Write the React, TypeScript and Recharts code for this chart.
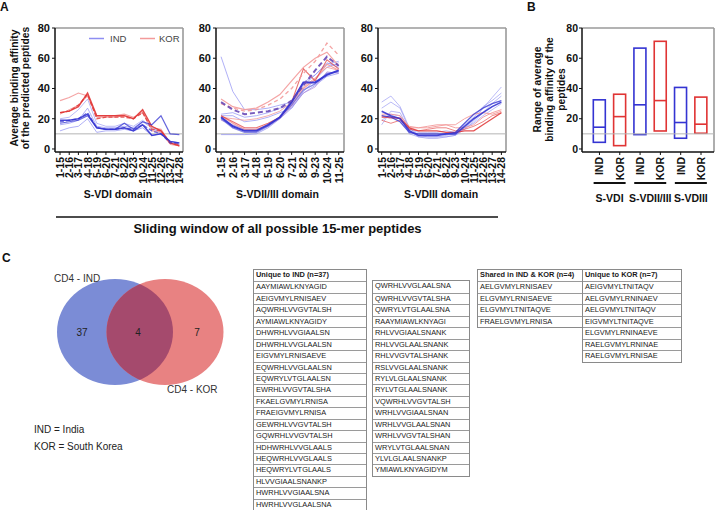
import React from 'react';
import { LineChart, Line, XAxis, YAxis, ReferenceLine, BarChart, Bar, ScatterChart, Scatter } from 'recharts';

const FONT = '"Liberation Sans", Arial, Helvetica, sans-serif';

// ---------- Panel A categories ----------
const vdiWindows = ['1-15', '2-16', '3-17', '4-18', '5-19', '6-20', '7-21', '8-22', '9-23', '10-24', '11-25', '12-26', '13-27', '14-28'];
const vdiiWindows = ['1-15', '2-16', '3-17', '4-18', '5-19', '6-20', '7-21', '8-22', '9-23', '10-24', '11-25'];
const vdiiiWindows = ['1-15', '2-16', '3-17', '4-18', '5-19', '6-20', '7-21', '8-22', '9-23', '10-24', '11-25', '12-26', '13-27', '14-28'];
const yTicks = [0, 20, 40, 60, 80];

// ---------- S-VDI ----------
const vdiInd1 = [19, 19, 20, 23, 14, 13, 13, 14, 12, 16, 9, 10, 5, 4];
const vdiInd2 = [17, 18, 19, 22, 14, 13, 13, 17, 13, 18, 16, 22, 10, 9.5];
const vdiInd3 = [16, 17, 19, 27, 15, 14, 14, 15, 14, 18, 14, 10, 5, 4];
const vdiInd4 = [12, 14, 15, 20, 11, 12, 12, 13, 12, 14, 9, 10, 4, 3];
const vdiInd5 = [20, 21, 26, 33, 17, 15, 15, 17, 15, 19, 14, 11, 4, 3];
const vdiIndDash = [18, 19, 20, 24, 14, 13, 13, 14, 13, 16, 12, 10, 4, 4];
const vdiKor1 = [32, 34, 37, 35, 22, 22, 22, 23, 21, 24, 14, 13, 4, 2];
const vdiKor2 = [24, 25, 28, 37, 22, 22, 22, 22, 20, 26, 15, 12, 4, 2];
const vdiKor3 = [23, 26, 29, 35, 21, 21, 21, 22, 20, 25, 12, 11, 3, 2];
const vdiKorDash = [24, 25, 29, 36, 20, 21, 21, 21, 20, 24, 13, 12, 4, 3];

// ---------- S-VDII/III ----------
const vdiiInd1 = [61, 38, 26, 26, 27, 29, 31, 44, 49, 57, 54];
const vdiiInd2 = [21, 15, 12, 12, 16, 21, 31, 44, 44, 49, 52];
const vdiiInd3 = [20, 14, 11, 11, 15, 21, 29, 39, 43, 50, 51];
const vdiiInd4 = [9.5, 9.5, 9.5, 10, 14, 20, 27, 37, 42, 48, 50];
const vdiiInd5 = [22, 22, 18, 19, 21, 24, 27, 38, 46, 54, 57];
const vdiiInd6 = [23, 24, 21, 22, 24, 27, 29, 42, 49, 56, 58];
const vdiiInd7 = [19, 16, 13, 13, 15, 20, 28, 37, 41, 51, 50];
const vdiiIndDash = [31, 26, 23, 24, 25, 27, 32, 42, 52, 61, 55];
const vdiiKor1 = [33, 28, 26, 27, 31, 36, 45, 54, 60, 64, 55];
const vdiiKor2 = [22, 18, 14, 14, 17, 21, 31, 53, 45, 59, 53];
const vdiiKor3 = [22, 17, 13, 13, 16, 21, 29, 40, 46, 56, 52];
const vdiiKor4 = [21, 20, 19, 20, 22, 25, 31, 41, 47, 54, 52];
const vdiiKorDash = [30, 27, 25, 26, 29, 33, 40, 50, 58, 70, 62];

// ---------- S-VDIII ----------
const vdiiiInd1 = [25, 22, 20, 12, 9, 9, 9, 10, 10, 15, 20, 24, 28, 31];
const vdiiiInd2 = [22, 21, 18, 11, 10, 10, 10, 10, 11, 17, 23, 27, 30, 32];
const vdiiiInd3 = [31, 35, 28, 14, 9, 8, 8, 8, 9, 14, 19, 27, 34, 41];
const vdiiiInd4 = [16, 25, 24, 12, 8, 7, 7, 8, 9, 13, 18, 24, 30, 35];
const vdiiiInd5 = [27, 31, 27, 13, 11, 11, 11, 12, 11, 16, 21, 28, 32, 37];
const vdiiiInd6 = [19, 23, 22, 10, 8, 8, 8, 9, 10, 14, 17, 22, 26, 30];
const vdiiiKor1 = [21, 21, 20, 14, 12, 12, 12, 11, 11, 12, 12, 16, 20, 24];
const vdiiiKor2 = [23, 23, 22, 15, 14, 14, 15, 16, 16, 20, 23, 24, 23, 25];
const vdiiiKor3 = [19, 17, 19, 13, 12, 13, 14, 14, 12, 13, 15, 18, 22, 24];
const vdiiiKor4 = [22, 20, 21, 14, 14, 15, 16, 16, 14, 14, 16, 21, 24, 26];

// ---------- Panel B ----------
const bCats = ['IND', 'KOR', 'IND', 'KOR', 'IND', 'KOR'];
const bLow = [4.4, 2.2, 9.5, 11.9, 7.1, 10.4];
const bHigh = [32.5, 36.2, 66.7, 71.2, 40.7, 34.3];
const bMedian = [14.4, 21.4, 29.2, 32, 17.5, 16.4];
const bGroups = ['S-VDI', 'S-VDII/III', 'S-VDIII'];
const bGroupCenters = [0.5, 2.5, 4.5];

// ---------- Panel C ----------
const vennSets = ['CD4 - IND', 'CD4 - KOR'];
const vennCenters = [0, 1];
const vennCounts = [37, 4, 7];
const vennCountPos = [-0.66, 0.46, 1.64];

const uniqueInd = [
  'AAYMIAWLKNYAGID', 'AEIGVMYLRNISAEV', 'AQWRHLVVGVTALSH', 'AYMIAWLKNYAGIDY', 'DHWRHLVVGIAALSN',
  'DHWRHLVVGLAALSN', 'EIGVMYLRNISAEVE', 'EQWRHLVVGLAALSN', 'EQWRYLVTGLAALSN', 'EWRHLVVGVTALSHA',
  'FKAELGVMYLRNISA', 'FRAEIGVMYLRNISA', 'GEWRHLVVGVTALSH', 'GQWRHLVVGVTALSH', 'HDHWRHLVVGLAALS',
  'HEQWRHLVVGLAALS', 'HEQWRYLVTGLAALS', 'HLVVGIAALSNANKP', 'HWRHLVVGIAALSNA', 'HWRHLVVGLAALSNA',
  'QWRHLVVGLAALSNA', 'QWRHLVVGVTALSHA', 'QWRYLVTGLAALSNA', 'RAAYMIAWLKNYAGI', 'RHLVVGIAALSNANK',
  'RHLVVGLAALSNANK', 'RHLVVGVTALSHANK', 'RSLVVGLAALSNANK', 'RYLVLGLAALSNANK', 'RYLVTGLAALSNANK',
  'VQWRHLVVGVTALSH', 'WRHLVVGIAALSNAN', 'WRHLVVGLAALSNAN', 'WRHLVVGVTALSHAN', 'WRYLVTGLAALSNAN',
  'YLVLGLAALSNANKP', 'YMIAWLKNYAGIDYM',
];
const sharedPeptides = ['AELGVMYLRNISAEV', 'ELGVMYLRNISAEVE', 'ELGVMYLTNITAQVE', 'FRAELGVMYLRNISA'];
const uniqueKor = ['AEIGVMYLTNITAQV', 'AELGVMYLRNINAEV', 'AELGVMYLTNITAQV', 'EIGVMYLTNITAQVE', 'ELGVMYLRNINAEVE', 'RAELGVMYLRNINAE', 'RAELGVMYLRNISAE'];

// ---------- styles ----------
const IND_DARK = '#3434d2';
const IND_LIGHT = '#8e8ef2';
const KOR_DARK = '#e03434';
const KOR_LIGHT = '#f39a9a';
const PURPLE = '#6848b6';

type S = { data: number[]; color: string; w: number; op: number; dash?: string };

const vdiSeries: S[] = [
  { data: vdiInd3, color: IND_LIGHT, w: 1, op: 0.7 },
  { data: vdiInd4, color: IND_LIGHT, w: 1, op: 0.7 },
  { data: vdiInd5, color: IND_LIGHT, w: 1, op: 0.6 },
  { data: vdiKor1, color: KOR_LIGHT, w: 1.2, op: 0.9 },
  { data: vdiKor3, color: KOR_LIGHT, w: 1, op: 0.9 },
  { data: vdiKorDash, color: KOR_DARK, w: 1.3, op: 0.8, dash: '4 2' },
  { data: vdiKor2, color: KOR_DARK, w: 1.4, op: 0.9 },
  { data: vdiIndDash, color: IND_DARK, w: 1.3, op: 0.7, dash: '4 2' },
  { data: vdiInd2, color: IND_DARK, w: 1.2, op: 0.75 },
  { data: vdiInd1, color: IND_DARK, w: 1.5, op: 0.9 },
];

const vdiiSeries: S[] = [
  { data: vdiiInd1, color: IND_LIGHT, w: 1, op: 0.7 },
  { data: vdiiInd4, color: IND_LIGHT, w: 1, op: 0.7 },
  { data: vdiiInd5, color: IND_LIGHT, w: 1, op: 0.7 },
  { data: vdiiInd6, color: IND_LIGHT, w: 1, op: 0.7 },
  { data: vdiiInd7, color: '#b08ad8', w: 1, op: 0.7 },
  { data: vdiiKor4, color: KOR_LIGHT, w: 1, op: 0.8 },
  { data: vdiiKor1, color: KOR_LIGHT, w: 1.2, op: 0.9 },
  { data: vdiiKor3, color: KOR_LIGHT, w: 1.2, op: 0.9 },
  { data: vdiiKor2, color: KOR_DARK, w: 1.1, op: 0.7 },
  { data: vdiiKorDash, color: KOR_LIGHT, w: 1.3, op: 0.9, dash: '4 3' },
  { data: vdiiInd3, color: '#6a6ae0', w: 1.3, op: 0.8 },
  { data: vdiiInd2, color: IND_DARK, w: 2, op: 0.95 },
  { data: vdiiIndDash, color: PURPLE, w: 2, op: 0.9, dash: '5 3' },
];

const vdiiiSeries: S[] = [
  { data: vdiiiInd3, color: IND_LIGHT, w: 1, op: 0.6 },
  { data: vdiiiInd4, color: IND_LIGHT, w: 1, op: 0.6 },
  { data: vdiiiInd5, color: IND_LIGHT, w: 1, op: 0.6 },
  { data: vdiiiInd6, color: IND_LIGHT, w: 1, op: 0.6 },
  { data: vdiiiKor2, color: KOR_LIGHT, w: 1, op: 0.9 },
  { data: vdiiiKor4, color: KOR_LIGHT, w: 1, op: 0.9 },
  { data: vdiiiKor3, color: KOR_DARK, w: 1, op: 0.6 },
  { data: vdiiiKor1, color: KOR_DARK, w: 1.3, op: 0.85 },
  { data: vdiiiInd2, color: IND_DARK, w: 1.3, op: 0.8 },
  { data: vdiiiInd1, color: IND_DARK, w: 1.6, op: 0.9 },
];

const RotTick = (props: any) => {
  const { x, y, payload, labels } = props;
  return (
    <text
      transform={`translate(${x},${y}) rotate(-90)`}
      textAnchor="end"
      dominantBaseline="central"
      fontSize={10.5}
      fontWeight="bold"
      fontFamily={FONT}
      fill="#111"
    >
      {labels[payload.value]}
    </text>
  );
};

const yTickStyle = { fontSize: 11, fontWeight: 'bold', fill: '#111', fontFamily: FONT } as any;
const bTickStyle = { fontSize: 10.5, fontWeight: 'bold', fill: '#111', fontFamily: FONT } as any;

function DomainPanel({ left, labels, series, domain }: { left: number; labels: string[]; series: S[]; domain: [number, number] }) {
  const rows = labels.map((lab, i) => {
    const r: any = { i, lab };
    series.forEach((s, k) => {
      r['s' + k] = s.data[i];
    });
    return r;
  });
  return (
    <div style={{ position: 'absolute', left, top: 0 }}>
      <LineChart width={190} height={215} data={rows} margin={{ top: 28, right: 7, left: 0, bottom: 0 }}>
        <ReferenceLine y={80} stroke="#9a9a9a" strokeWidth={1.6} />
        <ReferenceLine x={domain[1]} stroke="#9a9a9a" strokeWidth={1.6} />
        <ReferenceLine y={10} stroke="#b4b4b4" strokeWidth={1} />
        <XAxis
          type="number"
          dataKey="i"
          domain={domain}
          ticks={labels.map((_, i) => i)}
          interval={0}
          allowDataOverflow
          height={63}
          tickSize={3}
          tickMargin={2}
          axisLine={{ stroke: '#111', strokeWidth: 1.5 }}
          tickLine={{ stroke: '#111' }}
          tick={(p: any) => <RotTick {...p} labels={labels} />}
        />
        <YAxis
          type="number"
          domain={[-2, 80]}
          ticks={yTicks}
          interval={0}
          allowDataOverflow
          width={55}
          tickSize={3}
          tickMargin={2}
          axisLine={{ stroke: '#111', strokeWidth: 1.5 }}
          tickLine={{ stroke: '#111' }}
          tick={yTickStyle}
        />
        {series.map((s, k) => (
          <Line
            key={k}
            type="linear"
            dataKey={'s' + k}
            stroke={s.color}
            strokeWidth={s.w}
            strokeOpacity={s.op}
            strokeDasharray={s.dash}
            dot={false}
            isAnimationActive={false}
          />
        ))}
      </LineChart>
    </div>
  );
}

const RangeBox = (props: any) => {
  const { x, y, width, height, payload } = props;
  const top = Math.min(y, y + height);
  const h = Math.abs(height);
  const color = payload.cat === 'IND' ? IND_DARK : KOR_DARK;
  const my = top + (h * (payload.high - payload.median)) / (payload.high - payload.low);
  return (
    <g>
      <rect x={x} y={top} width={width} height={h} fill="none" stroke={color} strokeWidth={1.6} />
      <line x1={x} x2={x + width} y1={my} y2={my} stroke={color} strokeWidth={1.6} />
    </g>
  );
};

const BTick = (props: any) => {
  const { x, y, payload } = props;
  return (
    <text
      transform={`translate(${x},${y}) rotate(-90)`}
      textAnchor="end"
      dominantBaseline="central"
      fontSize={10.5}
      fontWeight="bold"
      fontFamily={FONT}
      fill="#111"
    >
      {bCats[payload.value]}
    </text>
  );
};

const GroupTick = (props: any) => {
  const { x, y, index } = props;
  return (
    <g>
      <line x1={x - 16} x2={x + 16} y1={y + 155} y2={y + 155} stroke="#111" strokeWidth={2} />
      <text x={x} y={y + 174} textAnchor="middle" fontSize={10.5} fontWeight="bold" fontFamily={FONT} fill="#111">
        {bGroups[index]}
      </text>
    </g>
  );
};

function PanelB() {
  const rows = bCats.map((cat, i) => ({ i, cat, range: [bLow[i], bHigh[i]], low: bLow[i], high: bHigh[i], median: bMedian[i] }));
  const dom: [number, number] = [-0.86, 5.64];
  return (
    <div style={{ position: 'absolute', left: 500, top: 0 }}>
      <BarChart width={215} height={215} data={rows} margin={{ top: 27, right: 1, left: 0, bottom: 0 }}>
        <ReferenceLine y={80} stroke="#9a9a9a" strokeWidth={1.6} />
        <ReferenceLine x={dom[1]} stroke="#9a9a9a" strokeWidth={1.6} />
        <ReferenceLine y={10} stroke="#b4b4b4" strokeWidth={1} />
        <XAxis
          type="number"
          dataKey="i"
          domain={dom}
          ticks={[0, 1, 2, 3, 4, 5]}
          interval={0}
          allowDataOverflow
          height={63}
          tickSize={3}
          tickMargin={2}
          axisLine={{ stroke: '#111', strokeWidth: 1.5 }}
          tickLine={{ stroke: '#111' }}
          tick={(p: any) => <BTick {...p} />}
        />
        <XAxis
          xAxisId="grp"
          orientation="top"
          type="number"
          dataKey="i"
          domain={dom}
          ticks={bGroupCenters}
          interval={0}
          allowDataOverflow
          height={1}
          tickSize={0}
          tickMargin={0}
          axisLine={false}
          tickLine={false}
          tick={(p: any) => <GroupTick {...p} />}
        />
        <YAxis
          type="number"
          domain={[-2, 80]}
          ticks={yTicks}
          interval={0}
          allowDataOverflow
          width={82}
          tickSize={3}
          tickMargin={1}
          axisLine={{ stroke: '#111', strokeWidth: 1.5 }}
          tickLine={{ stroke: '#111' }}
          tick={bTickStyle}
        />
        <Bar dataKey="range" barSize={12} shape={(p: any) => <RangeBox {...p} />} isAnimationActive={false} />
      </BarChart>
    </div>
  );
}

const VennShape = (props: any) => {
  const { cx, cy, payload } = props;
  if (payload.set === 0) {
    return (
      <g>
        <defs>
          <clipPath id="vennBlueClip">
            <ellipse cx={cx} cy={cy} rx={58} ry={53} />
          </clipPath>
        </defs>
        <ellipse cx={cx} cy={cy} rx={58} ry={53} fill="#7b8cd6" />
      </g>
    );
  }
  return (
    <g>
      <ellipse cx={cx} cy={cy} rx={58.5} ry={53} fill="#e88282" />
      <ellipse cx={cx} cy={cy} rx={58.5} ry={53} fill="#a54a6d" clipPath="url(#vennBlueClip)" />
    </g>
  );
};

const CountShape = (props: any) => {
  const { cx, cy, payload } = props;
  return (
    <text x={cx} y={cy} textAnchor="middle" dominantBaseline="central" fontSize={10} fontFamily={FONT} fill="#222">
      {payload.n}
    </text>
  );
};

function Venn() {
  const circles = vennSets.map((name, k) => ({ x: vennCenters[k], y: 0, set: k, name }));
  const counts = vennCounts.map((n, k) => ({ x: vennCountPos[k], y: 0, n }));
  return (
    <div style={{ position: 'absolute', left: 0, top: 267 }}>
      <ScatterChart width={240} height={130} margin={{ top: 0, right: 0, left: 0, bottom: 0 }}>
        <XAxis type="number" dataKey="x" domain={[-2.3, 2.5]} hide />
        <YAxis type="number" dataKey="y" domain={[-1.3, 1.3]} hide />
        <Scatter data={circles} shape={(p: any) => <VennShape {...p} />} isAnimationActive={false} />
        <Scatter data={counts} shape={(p: any) => <CountShape {...p} />} isAnimationActive={false} />
      </ScatterChart>
    </div>
  );
}

const ROW_H = 11.45;

function PepTable({ left, top, width, header, rows }: { left: number; top: number; width: number; header?: string; rows: string[] }) {
  const all = header ? [header, ...rows] : rows;
  return (
    <div
      style={{
        position: 'absolute',
        left,
        top,
        width,
        border: '1px solid #8a8a8a',
        boxSizing: 'border-box',
        fontFamily: FONT,
        fontSize: 7.4,
        color: '#1a1a1a',
        background: '#fff',
      }}
    >
      {all.map((t, k) => (
        <div
          key={k}
          style={{
            height: ROW_H,
            lineHeight: `${ROW_H - 1}px`,
            boxSizing: 'border-box',
            borderTop: k === 0 ? 'none' : '1px solid #9a9a9a',
            paddingLeft: 2,
            whiteSpace: 'nowrap',
            overflow: 'hidden',
            fontWeight: header && k === 0 ? 'bold' : 'normal',
          }}
        >
          {t}
        </div>
      ))}
    </div>
  );
}

export default function App() {
  return (
    <div style={{ position: 'absolute', left: 0, top: 0, width: 715, height: 510, background: '#fff', overflow: 'hidden', fontFamily: FONT }}>
      <DomainPanel left={0} labels={vdiWindows} series={vdiSeries} domain={[-0.55, 13.4]} />
      <DomainPanel left={161} labels={vdiiWindows} series={vdiiSeries} domain={[-0.43, 10.45]} />
      <DomainPanel left={323} labels={vdiiiWindows} series={vdiiiSeries} domain={[-0.4, 13.5]} />
      <PanelB />
      <Venn />
      <PepTable left={253} top={269} width={114} header="Unique to IND (n=37)" rows={uniqueInd.slice(0, 20)} />
      <PepTable left={372} top={269 + ROW_H} width={98} rows={uniqueInd.slice(20)} />
      <PepTable left={477} top={269} width={106} header="Shared in IND & KOR (n=4)" rows={sharedPeptides} />
      <PepTable left={582} top={269} width={100} header="Unique to KOR (n=7)" rows={uniqueKor} />
      <svg width={715} height={510} style={{ position: 'absolute', left: 0, top: 0, pointerEvents: 'none' }} fontFamily={FONT}>
        <text x={0} y={11} fontSize={12} fontWeight="bold" fill="#111">A</text>
        <text x={527} y={11} fontSize={12} fontWeight="bold" fill="#111">B</text>
        <text x={2} y={262} fontSize={12} fontWeight="bold" fill="#111">C</text>

        <text transform="translate(17.6,88) rotate(-90)" textAnchor="middle" fontSize={10.3} fontWeight="bold" fill="#111">Average binding affinity</text>
        <text transform="translate(29.3,88) rotate(-90)" textAnchor="middle" fontSize={10.3} fontWeight="bold" fill="#111">of the predicted peptides</text>

        <line x1={89} x2={104} y1={38.5} y2={38.5} stroke={IND_LIGHT} strokeWidth={1.5} />
        <text x={110} y={42} fontSize={9.5} fill="#444">IND</text>
        <line x1={140} x2={155} y1={38.5} y2={38.5} stroke={KOR_LIGHT} strokeWidth={1.5} />
        <text x={159} y={42} fontSize={9.5} fill="#444">KOR</text>

        <text x={118} y={198} textAnchor="middle" fontSize={10.5} fontWeight="bold" fill="#111">S-VDI domain</text>
        <text x={277.5} y={198} textAnchor="middle" fontSize={10.5} fontWeight="bold" fill="#111">S-VDII/III domain</text>
        <text x={441} y={198} textAnchor="middle" fontSize={10.5} fontWeight="bold" fill="#111">S-VDIII domain</text>

        <line x1={56} x2={498} y1={217} y2={217} stroke="#111" strokeWidth={1.6} />
        <text x={277.5} y={233} textAnchor="middle" fontSize={13} fontWeight="bold" fill="#111">Sliding window of all possible 15-mer peptides</text>

        <text transform="translate(541,89.5) rotate(-90)" textAnchor="middle" fontSize={10.3} fontWeight="bold" fill="#111">Range of average</text>
        <text transform="translate(553,89.5) rotate(-90)" textAnchor="middle" fontSize={10.3} fontWeight="bold" fill="#111">binding affinity of the</text>
        <text transform="translate(565,89.5) rotate(-90)" textAnchor="middle" fontSize={10.3} fontWeight="bold" fill="#111">peptides</text>

        <text x={54} y={281.5} fontSize={10} fill="#333">{vennSets[0]}</text>
        <text x={167} y={393} fontSize={10} fill="#333">{vennSets[1]}</text>
        <text x={34} y={433} fontSize={10} fill="#222">IND = India</text>
        <text x={34} y={450} fontSize={10} fill="#222">KOR = South Korea</text>
      </svg>
    </div>
  );
}
